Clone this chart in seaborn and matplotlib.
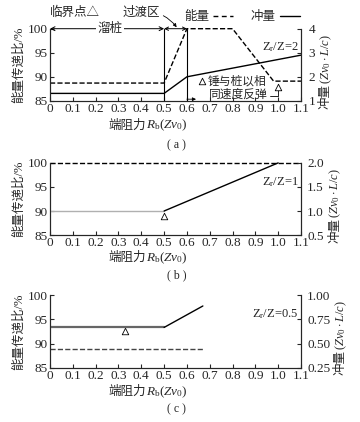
import matplotlib
matplotlib.use('Agg')
import matplotlib.pyplot as plt
import seaborn as sns

# panel (a)  Zr/Z = 2
a_energy_x = [0, 0.5, 0.6, 0.8, 0.98, 1.1]
a_energy_y = [88.7, 88.7, 100, 100, 89.1, 89.1]
a_impulse_x = [0, 0.5, 0.6, 1.1]
a_impulse_y = [1.31, 1.31, 2.0, 2.9]
a_crit_x = [0.665, 1.0]
a_crit_y = [89.1, 87.8]

# panel (b)  Zr/Z = 1
b_energy_x = [0, 1.1]
b_energy_y = [100, 100]
b_flat_x = [0, 0.5]
b_flat_y = [1.0, 1.0]
b_impulse_x = [0.5, 1.0]
b_impulse_y = [1.0, 2.0]
b_crit_x = [0.5]
b_crit_y = [89.0]

# panel (c)  Zr/Z = 0.5
c_energy_x = [0, 0.67]
c_energy_y = [88.9, 88.9]
c_flat_x = [0, 0.5]
c_flat_y = [0.667, 0.667]
c_impulse_x = [0.5, 0.67]
c_impulse_y = [0.667, 0.89]
c_crit_x = [0.33]
c_crit_y = [92.5]

xticks = [0, 0.1, 0.2, 0.3, 0.4, 0.5, 0.6, 0.7, 0.8, 0.9, 1.0, 1.1]
xticklabels = ['0', '0.1', '0.2', '0.3', '0.4', '0.5', '0.6', '0.7', '0.8', '0.9', '1.0', '1.1']
left_ticks = [85, 90, 95, 100]
right_ticks = {'a': [1, 2, 3, 4], 'b': [0.5, 1.0, 1.5, 2.0], 'c': [0.25, 0.50, 0.75, 1.00]}
right_labels = {'a': ['1', '2', '3', '4'], 'b': ['0.5', '1.0', '1.5', '2.0'],
                'c': ['0.25', '0.50', '0.75', '1.00']}
ratio_text = {'a': 'Z$_\\mathrm{r}$/Z=2', 'b': 'Z$_\\mathrm{r}$/Z=1', 'c': 'Z$_\\mathrm{r}$/Z=0.5'}

sns.set_style('ticks')
plt.rcParams['font.family'] = ['Liberation Serif', 'Noto Sans CJK SC']
plt.rcParams['mathtext.fontset'] = 'custom'
plt.rcParams['mathtext.rm'] = 'Liberation Serif'
plt.rcParams['mathtext.it'] = 'Liberation Serif:italic'
plt.rcParams['font.size'] = 9

fig = plt.figure(figsize=(3.6, 4.22), dpi=100)

boxes = {'a': 0.761, 'b': 0.443, 'c': 0.129}
caption_y = {'a': 0.656, 'b': 0.347, 'c': 0.031}
label_y = {'a': 0.703, 'b': 0.389, 'c': 0.071}
right_label_x = {'a': 0.905, 'b': 0.931, 'c': 0.947}
right_pad = {'a': 5.5, 'b': 4.5, 'c': 4.5}
axes = {}
for key in ['a', 'b', 'c']:
    ax = fig.add_axes([0.139, boxes[key], 0.697, 0.171])
    ax2 = ax.twinx()
    ax.set_xlim(0, 1.1)
    ax.set_ylim(85, 100)
    ax2.set_ylim(right_ticks[key][0], right_ticks[key][-1])
    ax.set_xticks(xticks)
    ax.set_xticklabels(xticklabels)
    ax.set_yticks(left_ticks)
    ax2.set_yticks(right_ticks[key])
    ax2.set_yticklabels(right_labels[key])
    for a in (ax, ax2):
        a.spines['top'].set_visible(False)
        for s in a.spines.values():
            s.set_linewidth(0.8)
        a.tick_params(direction='in', length=3, width=0.8, pad=1.5, labelsize=9.5)
    ax2.tick_params(pad=right_pad[key])
    ax.set_ylabel('能量传递比/%', fontsize=9, labelpad=2)
    # x label: chinese part + math part
    fig.text(0.405, label_y[key], '端阻力', ha='right', va='center', fontsize=9)
    fig.text(0.405, label_y[key], '$R_\\mathrm{b}(Zv_0)$', ha='left', va='center', fontsize=9.5)
    # right y label, rotated
    ymid = boxes[key] + 0.171 / 2
    fig.text(right_label_x[key], ymid - 0.045, '冲量', rotation=90, rotation_mode='anchor',
             ha='right', va='center', fontsize=9)
    fig.text(right_label_x[key], ymid - 0.045, '$(Zv_0\\cdot L/c)$', rotation=90,
             rotation_mode='anchor', ha='left', va='center', fontsize=9)
    fig.text(0.49, caption_y[key], '( %s )' % key, ha='center', va='center', fontsize=8.5)
    ax.text(1.09, 96.1, ratio_text[key], ha='right', va='center', fontsize=9)
    axes[key] = (ax, ax2)

# (a)
ax, ax2 = axes['a']
sns.lineplot(x=a_energy_x, y=a_energy_y, ax=ax, color='black', lw=1, dashes=(4, 3),
             linestyle='--', sort=False, clip_on=False)
sns.lineplot(x=a_impulse_x, y=a_impulse_y, ax=ax2, color='black', lw=1, sort=False)
sns.scatterplot(x=a_crit_x, y=a_crit_y, ax=ax, marker='^', s=22, facecolor='white',
                edgecolor='black', linewidth=0.6, zorder=5)
ax.axvline(0.5, color='black', lw=0.8)
ax.axvline(0.6, color='black', lw=0.8)
ax.annotate('', xy=(0.0, 100), xytext=(0.5, 100), annotation_clip=False,
            arrowprops=dict(arrowstyle='<->', lw=0.7, color='black', shrinkA=0, shrinkB=0,
                            mutation_scale=7))
ax.text(0.263, 100, '溜桩', ha='center', va='center', fontsize=9,
        bbox=dict(facecolor='white', edgecolor='none', pad=1))
ax.annotate('', xy=(0.5, 100), xytext=(0.6, 100), annotation_clip=False,
            arrowprops=dict(arrowstyle='<->', lw=0.7, color='black', shrinkA=0, shrinkB=0,
                            mutation_scale=6))
ax.annotate('过渡区', xy=(0.555, 100.3), xytext=(0.40, 103.3), ha='center', va='center',
            fontsize=9, annotation_clip=False,
            arrowprops=dict(arrowstyle='-|>', lw=0.6, color='black', shrinkA=14, shrinkB=0,
                            mutation_scale=5, connectionstyle='arc3,rad=-0.3'))
ax.annotate('', xy=(0.64, 85.35), xytext=(0.6, 85.35), annotation_clip=False,
            arrowprops=dict(arrowstyle='-|>', lw=0.6, color='black', shrinkA=0, shrinkB=0,
                            mutation_scale=5))
ax.text(0.69, 89.1, '锤与桩以相', ha='left', va='center', fontsize=8.5)
ax.text(0.695, 86.3, '同速度反弹', ha='left', va='center', fontsize=8.5)
ax.plot([0.965, 0.998, 0.998], [85.95, 85.95, 87.2], color='black', lw=0.6)
ax.text(0.0, 103.3, '临界点△', ha='left', va='center', fontsize=9, clip_on=False)
h1, = ax.plot([], [], color='black', lw=1, dashes=(3.5, 2.5), label='能量')
h2, = ax.plot([], [], color='black', lw=1, label='冲量')
ax.legend(handles=[h1, h2], loc='lower right', bbox_to_anchor=(1.0, 1.06), ncol=2,
          frameon=False, markerfirst=False, handlelength=1.6, columnspacing=1.4,
          handletextpad=0.3, borderaxespad=0.0, borderpad=0.1, fontsize=9)

# (b)
ax, ax2 = axes['b']
sns.lineplot(x=b_energy_x, y=b_energy_y, ax=ax, color='black', lw=1, dashes=(4, 3),
             linestyle='--', clip_on=False)
sns.lineplot(x=b_flat_x, y=b_flat_y, ax=ax2, color='#b0b0b0', lw=1)
sns.lineplot(x=b_impulse_x, y=b_impulse_y, ax=ax2, color='black', lw=1, clip_on=False)
sns.scatterplot(x=b_crit_x, y=b_crit_y, ax=ax, marker='^', s=22, facecolor='white',
                edgecolor='black', linewidth=0.6, zorder=5)

# (c)
ax, ax2 = axes['c']
sns.lineplot(x=c_energy_x, y=c_energy_y, ax=ax, color='#444444', lw=1, dashes=(4, 3),
             linestyle='--')
sns.lineplot(x=c_flat_x, y=c_flat_y, ax=ax2, color='#666666', lw=1.6)
sns.lineplot(x=c_impulse_x, y=c_impulse_y, ax=ax2, color='black', lw=1)
sns.scatterplot(x=c_crit_x, y=c_crit_y, ax=ax, marker='^', s=22, facecolor='white',
                edgecolor='black', linewidth=0.6, zorder=5)

for key in ['a', 'b', 'c']:
    ax, ax2 = axes[key]
    if ax.get_legend() is not None and key != 'a':
        ax.get_legend().remove()
    if ax2.get_legend() is not None:
        ax2.get_legend().remove()

fig.savefig('out.png', dpi=100)
